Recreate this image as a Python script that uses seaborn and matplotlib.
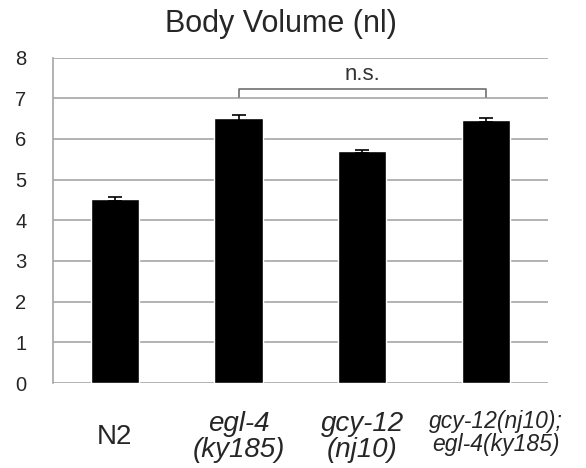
import pandas as pd
import matplotlib.pyplot as plt
import matplotlib.transforms as mtransforms
import seaborn as sns
import numpy as np

strains = ['N2', 'egl-4\n(ky185)', 'gcy-12\n(nj10)', 'gcy-12(nj10);\negl-4(ky185)']
volume = [4.52, 6.52, 5.70, 6.47]
sem = [0.05, 0.08, 0.04, 0.05]

df = pd.DataFrame({'Strain': strains, 'Volume': volume})

sns.set_style('white')
plt.rcParams['font.family'] = ['Liberation Sans', 'DejaVu Sans']

fig = plt.figure(figsize=(5.86, 4.68), dpi=100)
ax = fig.add_axes([0.0904, 0.1816, 0.8447, 0.6954])

sns.barplot(x='Strain', y='Volume', data=df, color='black', width=0.39,
            errorbar=None, saturation=1, ax=ax, zorder=3)
ax.errorbar(range(len(volume)), volume, yerr=sem, fmt='none', ecolor='black',
            elinewidth=1.2, capsize=5, capthick=1.2, zorder=4)

grey = '#a6a6a6'
ax.set_xlim(-0.5, 3.5)
ax.set_ylim(0, 8)
ax.set_yticks(np.arange(0, 9, 1))
ax.yaxis.grid(True, color=grey, linewidth=1.2)
ax.set_axisbelow(True)
for s in ['top', 'right', 'bottom']:
    ax.spines[s].set_visible(False)
ax.spines['left'].set_color(grey)
ax.spines['left'].set_linewidth(1.2)
ax.tick_params(axis='y', length=6, width=1.2, color=grey, pad=13, labelsize=14.5)
ax.tick_params(axis='x', length=0, pad=39)
ax.set_xlabel('')
ax.set_ylabel('')

ax.set_xticks(range(len(strains)))
ax.set_xticklabels(strains)
for i, lbl in enumerate(ax.get_xticklabels()):
    lbl.set_va('center')
    lbl.set_linespacing(1.0)
    if i == 0:
        lbl.set_fontsize(20)
    elif i == 3:
        lbl.set_fontsize(16.5)
        lbl.set_style('italic')
        shift = mtransforms.ScaledTranslation(10 / 100, 4 / 100, fig.dpi_scale_trans)
        lbl.set_transform(lbl.get_transform() + shift)
    else:
        lbl.set_fontsize(20)
        lbl.set_style('italic')

# significance bracket
ax.plot([1, 1, 3, 3], [7.02, 7.22, 7.22, 7.02], color='#707070', linewidth=1.2,
        clip_on=False, zorder=5)
ax.text(2, 7.58, 'n.s.', ha='center', va='center', fontsize=16, color='#333333')

fig.text(0.480, 1 - 32 / 468, 'Body Volume (nl)', ha='center', va='baseline', fontsize=22)

plt.savefig('out.png', dpi=100)
plt.close()
